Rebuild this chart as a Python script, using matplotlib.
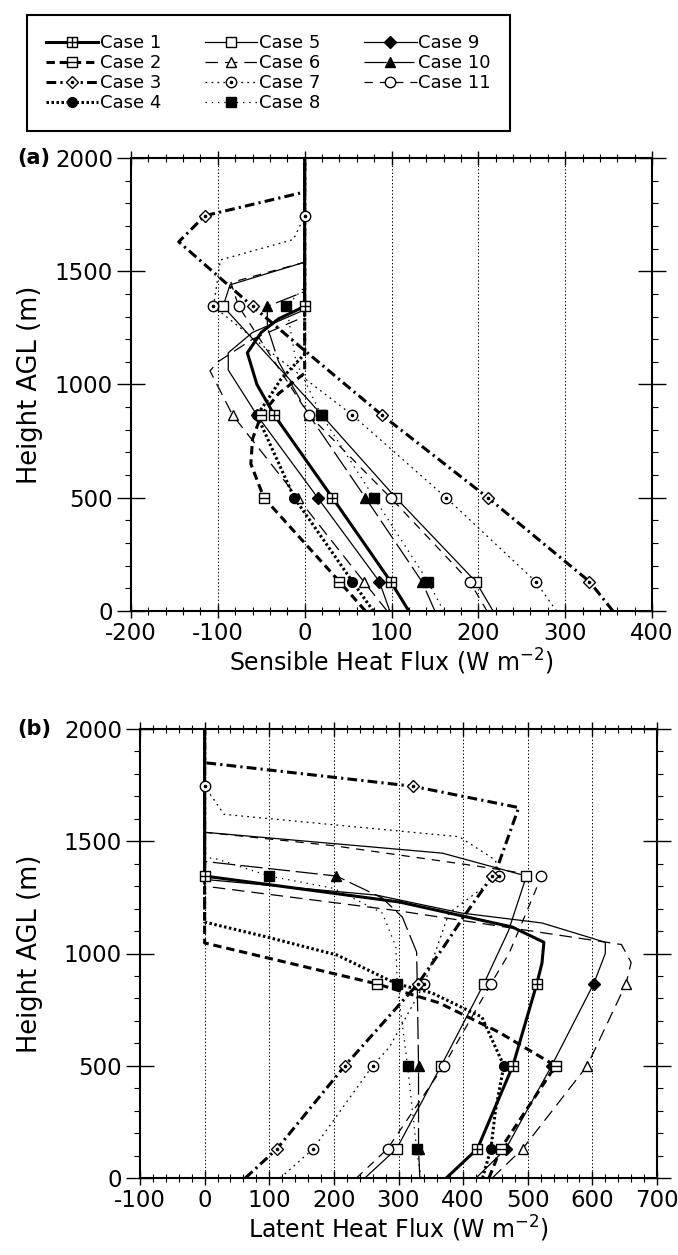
import matplotlib
matplotlib.use('Agg')
import matplotlib.pyplot as plt
from matplotlib.path import Path
from matplotlib.lines import Line2D
from matplotlib.ticker import MultipleLocator
from matplotlib.legend_handler import HandlerTuple

plt.rcParams['font.family'] = ['DejaVu Sans']
plt.rcParams['axes.unicode_minus'] = False
plt.rcParams['lines.scale_dashes'] = False

CASE_LABELS = ['Case 1', 'Case 2', 'Case 3', 'Case 4', 'Case 5', 'Case 6',
               'Case 7', 'Case 8', 'Case 9', 'Case 10', 'Case 11']
MARKER_HEIGHTS = [130, 500, 865, 1345, 1745]

# ---------------- (a) Sensible heat flux (W m-2) vs height AGL (m) ----------------
case1_sh_height = [0, 130, 500, 865, 1000, 1140, 1230, 1290, 1345, 2000]
case1_sh_flux = [120, 99, 32, -35, -55, -66, -50, -30, 0, 0]
case2_sh_height = [0, 130, 500, 650, 760, 865, 960, 1050, 2000]
case2_sh_flux = [70, 40, -47, -62, -60, -50, -30, 0, 0]
case3_sh_height = [0, 130, 500, 865, 1150, 1345, 1630, 1745, 1850, 2000]
case3_sh_flux = [355, 328, 211, 89, 0, -60, -145, -115, 0, 0]
case4_sh_height = [0, 130, 500, 865, 930, 1020, 1135, 2000]
case4_sh_flux = [79, 55, -12, -55, -43, -28, 0, 0]
case5_sh_height = [0, 130, 500, 865, 1345, 1440, 1540, 2000]
case5_sh_flux = [217, 197, 105, 20, -94, -86, 0, 0]
case6_sh_height = [0, 130, 500, 865, 1060, 1100, 1200, 1300, 2000]
case6_sh_flux = [95, 68, -8, -83, -109, -100, -60, 0, 0]
case7_sh_height = [0, 130, 500, 865, 1100, 1345, 1550, 1640, 1745, 2000]
case7_sh_flux = [290, 266, 163, 55, -25, -105, -97, -13, 0, 0]
case8_sh_height = [0, 130, 500, 865, 1100, 1345, 1430, 2000]
case8_sh_flux = [160, 142, 80, 19, -10, -21, 0, 0]
case9_sh_height = [0, 130, 500, 865, 1064, 1140, 1230, 1330, 2000]
case9_sh_flux = [98, 86, 15, -55, -88, -88, -60, 0, 0]
case10_sh_height = [0, 130, 500, 865, 1100, 1254, 1345, 1410, 2000]
case10_sh_flux = [150, 135, 70, 5, -30, -43, -43, 0, 0]
case11_sh_height = [0, 130, 500, 865, 1345, 1450, 1540, 2000]
case11_sh_flux = [210, 190, 99, 5, -76, -85, 0, 0]

# ---------------- (b) Latent heat flux (W m-2) vs height AGL (m) ----------------
case1_le_height = [0, 130, 500, 865, 957, 1050, 1118, 1229, 1345, 2000]
case1_le_flux = [374, 422, 477, 514, 522, 525, 476, 302, 0, 0]
case2_le_height = [0, 130, 230, 500, 650, 780, 865, 1047, 2000]
case2_le_flux = [440, 458, 481, 543, 455, 363, 266, 0, 0]
case3_le_height = [0, 130, 500, 865, 1030, 1160, 1345, 1400, 1650, 1745, 1850, 2000]
case3_le_flux = [63, 112, 217, 330, 370, 400, 445, 455, 486, 322, 0, 0]
case4_le_height = [0, 130, 300, 500, 717, 824, 865, 993, 1073, 1140, 2000]
case4_le_flux = [430, 443, 450, 463, 429, 352, 297, 205, 97, 0, 0]
case5_le_height = [0, 130, 500, 865, 1100, 1345, 1447, 1540, 2000]
case5_le_flux = [248, 297, 366, 432, 470, 498, 368, 0, 0]
case6_le_height = [0, 130, 500, 865, 960, 1040, 1080, 1190, 1300, 2000]
case6_le_flux = [445, 492, 592, 652, 660, 645, 552, 300, 0, 0]
case7_le_height = [0, 130, 500, 583, 865, 1180, 1345, 1416, 1520, 1620, 1745, 2000]
case7_le_flux = [117, 168, 260, 286, 340, 378, 455, 450, 394, 30, 0, 0]
case8_le_height = [0, 130, 500, 865, 1030, 1180, 1290, 1345, 1420, 1430, 2000]
case8_le_flux = [335, 328, 314, 298, 296, 275, 200, 100, 20, 0, 0]
case9_le_height = [0, 130, 500, 865, 1000, 1050, 1136, 1180, 1260, 1330, 2000]
case9_le_flux = [420, 466, 537, 602, 620, 620, 522, 398, 266, 0, 0]
case10_le_height = [0, 130, 500, 865, 1007, 1162, 1247, 1345, 1410, 2000]
case10_le_flux = [333, 331, 331, 329, 328, 306, 275, 204, 0, 0]
case11_le_height = [0, 130, 500, 865, 1000, 1280, 1345, 1390, 1480, 1540, 2000]
case11_le_flux = [235, 283, 370, 443, 471, 512, 520, 420, 200, 0, 0]

SH_PROFILES = [(case1_sh_flux, case1_sh_height), (case2_sh_flux, case2_sh_height),
               (case3_sh_flux, case3_sh_height), (case4_sh_flux, case4_sh_height),
               (case5_sh_flux, case5_sh_height), (case6_sh_flux, case6_sh_height),
               (case7_sh_flux, case7_sh_height), (case8_sh_flux, case8_sh_height),
               (case9_sh_flux, case9_sh_height), (case10_sh_flux, case10_sh_height),
               (case11_sh_flux, case11_sh_height)]
LE_PROFILES = [(case1_le_flux, case1_le_height), (case2_le_flux, case2_le_height),
               (case3_le_flux, case3_le_height), (case4_le_flux, case4_le_height),
               (case5_le_flux, case5_le_height), (case6_le_flux, case6_le_height),
               (case7_le_flux, case7_le_height), (case8_le_flux, case8_le_height),
               (case9_le_flux, case9_le_height), (case10_le_flux, case10_le_height),
               (case11_le_flux, case11_le_height)]

# ---------------- styles ----------------
SQ_PLUS = Path([(-1, -1), (1, -1), (1, 1), (-1, 1), (-1, -1), (0, -1), (0, 1), (-1, 0), (1, 0)],
               [1, 2, 2, 2, 79, 1, 2, 1, 2])
SQ_MINUS = Path([(-1, -1), (1, -1), (1, 1), (-1, 1), (-1, -1), (-1, 0), (1, 0)],
                [1, 2, 2, 2, 79, 1, 2])

THICK = 2.2
THIN = 0.9
STYLES = [
    dict(ls='-', lw=THICK, marker=SQ_PLUS, mfc='white', ms=7, dot=False),
    dict(ls=(0, (6, 3.5)), lw=THICK, marker=SQ_MINUS, mfc='white', ms=7, dot=False),
    dict(ls=(0, (7, 3, 1.6, 3)), lw=THICK, marker='D', mfc='white', ms=6, dot=True),
    dict(ls=(0, (1.8, 1.8)), lw=THICK, marker='o', mfc='black', ms=7, dot=False),
    dict(ls='-', lw=THIN, marker='s', mfc='white', ms=7, dot=False),
    dict(ls=(0, (9, 5)), lw=THIN, marker='^', mfc='white', ms=7.5, dot=False),
    dict(ls=(0, (1.3, 3)), lw=THIN, marker='o', mfc='white', ms=7.5, dot=True),
    dict(ls=(0, (1, 3.5)), lw=THIN, marker='s', mfc='black', ms=7, dot=False),
    dict(ls='-', lw=THIN, marker='D', mfc='black', ms=6, dot=False),
    dict(ls=(0, (16, 4)), lw=THIN, marker='^', mfc='black', ms=7.5, dot=False),
    dict(ls=(0, (6, 5)), lw=THIN, marker='o', mfc='white', ms=7.5, dot=False),
]

W, H = 678, 1255
fig = plt.figure(figsize=(W / 100, H / 100), dpi=100)


def axes_px(left, right, top, bottom):
    return fig.add_axes([left / W, 1 - bottom / H, (right - left) / W, (bottom - top) / H])


ax_a = axes_px(131, 652, 158, 611)
ax_b = axes_px(140, 657, 729, 1178)


def draw_panel(ax, profiles, xlim, xlabel):
    order = [4, 5, 6, 7, 8, 9, 10, 3, 2, 1, 0]
    for i in order:
        flux, height = profiles[i]
        st = STYLES[i]
        ax.plot(flux, height, color='black', ls=st['ls'], lw=st['lw'],
                solid_joinstyle='round', zorder=2 + (1 if st['lw'] == THICK else 0))
    for i in order:
        flux, height = profiles[i]
        st = STYLES[i]
        idx = [k for k, z in enumerate(height) if z in MARKER_HEIGHTS]
        mx = [flux[k] for k in idx]
        my = [height[k] for k in idx]
        ax.plot(mx, my, ls='none', marker=st['marker'], ms=st['ms'], mfc=st['mfc'],
                mec='black', mew=1.0, zorder=5)
        if st['dot']:
            ax.plot(mx, my, ls='none', marker='o', ms=1.6, mfc='black', mec='black', zorder=6)

    ax.set_xlim(*xlim)
    ax.set_ylim(0, 2000)
    ax.xaxis.set_major_locator(MultipleLocator(100))
    ax.xaxis.set_minor_locator(MultipleLocator(20))
    ax.yaxis.set_major_locator(MultipleLocator(500))
    ax.yaxis.set_minor_locator(MultipleLocator(100))
    ax.grid(axis='x', which='major', ls=(0, (1, 1.5)), color='black', lw=0.7)
    ax.tick_params(axis='both', which='both', top=True, right=True, labelsize=16.5, colors='black')
    ax.tick_params(axis='x', which='major', direction='inout', length=10, width=1.0, pad=3)
    ax.tick_params(axis='x', which='minor', direction='inout', length=6, width=0.8)
    ax.tick_params(axis='y', which='major', direction='inout', length=20, width=1.0, pad=3)
    ax.tick_params(axis='y', which='minor', direction='out', length=4, width=0.8)
    for sp in ax.spines.values():
        sp.set_linewidth(1.5)
    ax.set_xlabel(xlabel, fontsize=17)
    ax.set_ylabel('Height AGL (m)', fontsize=18.5)


draw_panel(ax_a, SH_PROFILES, (-200, 400), r'Sensible Heat Flux (W m$^{-2}$)')
draw_panel(ax_b, LE_PROFILES, (-100, 700), r'Latent Heat Flux (W m$^{-2}$)')

fig.text(34 / W, 1 - 158 / H, '(a)', fontsize=15, fontweight='bold', ha='center', va='center')
fig.text(34 / W, 1 - 729 / H, '(b)', fontsize=15, fontweight='bold', ha='center', va='center')

ax_a.yaxis.set_label_coords((43 - 131) / 521, 0.5)
ax_b.yaxis.set_label_coords((43 - 140) / 517, 0.5)
ax_a.xaxis.set_label_coords(0.5, -0.08)
ax_b.xaxis.set_label_coords(0.5, -0.08)

# ---------------- legend ----------------
handles = []
for st in STYLES:
    ln = Line2D([], [], color='black', ls=st['ls'], lw=st['lw'], marker=st['marker'],
                ms=st['ms'], mfc=st['mfc'], mec='black', mew=1.0)
    if st['dot']:
        dt = Line2D([], [], ls='none', marker='o', ms=1.6, mfc='black', mec='black')
        handles.append((ln, dt))
    else:
        handles.append(ln)

leg = fig.legend(handles, CASE_LABELS, ncol=3, loc='upper left',
                 bbox_to_anchor=(27 / W, 1 - 137 / H, 483 / W, 122 / H), mode='expand',
                 frameon=True, fancybox=False, edgecolor='black', framealpha=1,
                 fontsize=13, handlelength=2.9, handletextpad=0.1, labelspacing=0.12,
                 borderpad=1.05, borderaxespad=0, numpoints=1,
                 handler_map={tuple: HandlerTuple(ndivide=1, pad=0)})
leg.get_frame().set_linewidth(1.5)

fig.savefig('out.png', dpi=100)
